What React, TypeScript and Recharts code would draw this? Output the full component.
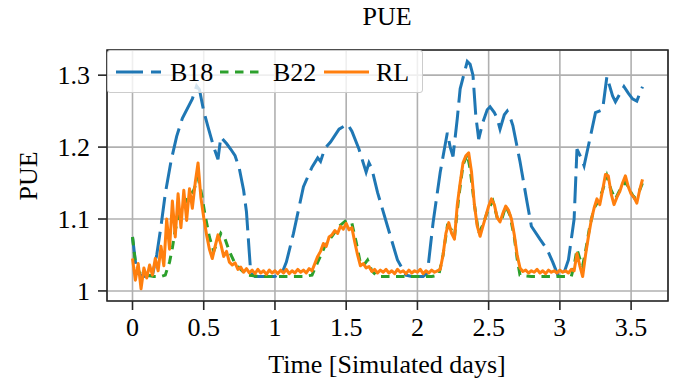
import { LineChart, Line, XAxis, YAxis, CartesianGrid, Legend, ReferenceArea } from 'recharts';

// RL: sampled every 0.02 simulated days, t = 0 .. 3.58
const RL_STEP = 0.02;
const rlPue = [
  1.045, 1.015, 1.038, 1.003, 1.032, 1.018, 1.036, 1.022, 1.045, 1.028,
  1.062, 1.035, 1.1, 1.058, 1.125, 1.075, 1.135, 1.088, 1.14, 1.098,
  1.142, 1.115, 1.15, 1.178, 1.13, 1.102, 1.078, 1.058, 1.045, 1.062,
  1.078, 1.065, 1.048, 1.055, 1.04, 1.036, 1.039, 1.03, 1.033, 1.026,
  1.031, 1.025, 1.029, 1.024, 1.03, 1.025, 1.028, 1.023, 1.029, 1.025,
  1.028, 1.024, 1.029, 1.025, 1.03, 1.024, 1.028, 1.025, 1.03, 1.026,
  1.029, 1.025, 1.031, 1.028, 1.038, 1.048, 1.055, 1.066, 1.062, 1.075,
  1.078, 1.084, 1.08, 1.09, 1.086, 1.094, 1.085, 1.088, 1.068, 1.05,
  1.035, 1.038, 1.032, 1.034, 1.027, 1.03, 1.025, 1.029, 1.026, 1.03,
  1.025, 1.028, 1.024, 1.03, 1.026, 1.028, 1.024, 1.029, 1.025, 1.028,
  1.026, 1.03, 1.024, 1.028, 1.025, 1.029, 1.026, 1.028, 1.03, 1.05,
  1.08, 1.095, 1.08, 1.072, 1.12, 1.15, 1.178, 1.188, 1.192, 1.165,
  1.12, 1.09, 1.076, 1.09, 1.104, 1.118, 1.128, 1.12, 1.102, 1.096,
  1.108, 1.118, 1.112, 1.1, 1.078, 1.05, 1.032, 1.027, 1.029, 1.025,
  1.028, 1.026, 1.03, 1.025, 1.028, 1.024, 1.029, 1.026, 1.028, 1.025,
  1.029, 1.026, 1.028, 1.025, 1.03, 1.028, 1.052, 1.035, 1.02, 1.05,
  1.075, 1.098, 1.115, 1.128, 1.12, 1.14, 1.162, 1.16, 1.135, 1.12,
  1.13, 1.138, 1.15, 1.16, 1.145, 1.135, 1.13, 1.122, 1.14, 1.155,
];

const b18Time = [
  0, 0.03, 0.08, 0.14, 0.17, 0.2, 0.23, 0.27, 0.31, 0.35, 0.42, 0.45, 0.47, 0.5, 0.53, 0.57, 0.6, 0.62,
  0.66, 0.69, 0.72, 0.75, 0.78, 0.8, 0.82, 0.83, 0.86, 1.0, 1.05, 1.08, 1.13, 1.2, 1.26, 1.3, 1.32,
  1.35, 1.39, 1.45, 1.51, 1.54, 1.59, 1.64, 1.66, 1.68, 1.72, 1.79, 1.86, 1.92, 1.96, 2.04, 2.07,
  2.09, 2.11, 2.16, 2.21, 2.23, 2.25, 2.28, 2.3, 2.35, 2.37, 2.39, 2.41, 2.43, 2.46, 2.49, 2.51,
  2.54, 2.56, 2.58, 2.61, 2.63, 2.65, 2.67, 2.72, 2.77, 2.8, 2.86, 2.91, 2.95, 2.99, 3.02, 3.06,
  3.1, 3.12, 3.15, 3.17, 3.22, 3.25, 3.3, 3.33, 3.37, 3.39, 3.45, 3.48, 3.51, 3.54, 3.58,
];
const b18Pue = [
  1.075, 1.025, 1.02, 1.022, 1.05, 1.09, 1.135, 1.18, 1.215, 1.24, 1.267, 1.285, 1.28, 1.25, 1.228, 1.2, 1.183, 1.214,
  1.205, 1.197, 1.188, 1.17, 1.14, 1.11, 1.053, 1.025, 1.02, 1.02, 1.025, 1.04, 1.08, 1.145, 1.172, 1.185, 1.18,
  1.198, 1.207, 1.225, 1.232, 1.222, 1.197, 1.165, 1.178, 1.17, 1.137, 1.09, 1.043, 1.022, 1.02, 1.02, 1.025,
  1.06, 1.095, 1.165, 1.22, 1.2, 1.187, 1.24, 1.281, 1.319, 1.315, 1.3, 1.243, 1.211, 1.235, 1.252, 1.256,
  1.248, 1.24, 1.225, 1.245, 1.25, 1.242, 1.23, 1.18, 1.123, 1.09, 1.072, 1.058, 1.04, 1.02, 1.02, 1.043,
  1.1, 1.197, 1.185, 1.174, 1.22, 1.248, 1.252, 1.298, 1.271, 1.263, 1.284, 1.275, 1.267, 1.264, 1.284,
];

const b22Time = [
  0, 0.02, 0.05, 0.1, 0.15, 0.2, 0.23, 0.26, 0.28, 0.3, 0.33, 0.36, 0.4, 0.43, 0.46, 0.48, 0.51, 0.54,
  0.57, 0.6, 0.62, 0.65, 0.68, 0.72, 0.76, 0.8, 0.9, 1.0, 1.1, 1.2, 1.26, 1.3, 1.35, 1.4, 1.45, 1.5,
  1.54, 1.57, 1.6, 1.62, 1.65, 1.68, 1.72, 1.8, 1.9, 2.0, 2.1, 2.15, 2.18, 2.21, 2.24, 2.26, 2.29,
  2.32, 2.35, 2.37, 2.4, 2.43, 2.46, 2.5, 2.53, 2.56, 2.59, 2.62, 2.65, 2.68, 2.7, 2.72, 2.8, 2.9,
  3.0, 3.08, 3.1, 3.12, 3.14, 3.16, 3.18, 3.21, 3.24, 3.27, 3.3, 3.33, 3.36, 3.39, 3.42, 3.46, 3.49,
  3.52, 3.55, 3.58,
];
const b22Pue = [
  1.075, 1.04, 1.025, 1.022, 1.02, 1.02, 1.022, 1.04, 1.06, 1.085, 1.105, 1.12, 1.132, 1.14, 1.158, 1.14, 1.105, 1.075,
  1.055, 1.07, 1.08, 1.072, 1.055, 1.038, 1.03, 1.022, 1.02, 1.02, 1.02, 1.02, 1.022, 1.04, 1.062, 1.076, 1.09, 1.098,
  1.094, 1.068, 1.038, 1.035, 1.043, 1.028, 1.02, 1.02, 1.02, 1.02, 1.02, 1.022, 1.05, 1.09, 1.085, 1.075, 1.13,
  1.175, 1.19, 1.17, 1.12, 1.08, 1.092, 1.115, 1.125, 1.102, 1.098, 1.118, 1.105, 1.075, 1.045, 1.022, 1.02, 1.02,
  1.02, 1.02, 1.035, 1.058, 1.045, 1.035, 1.055, 1.09, 1.115, 1.125, 1.14, 1.16, 1.14, 1.128, 1.14, 1.152, 1.14,
  1.13, 1.135, 1.15,
];

const xTicks = [0, 0.5, 1, 1.5, 2, 2.5, 3, 3.5];
const yTicks = [1, 1.1, 1.2, 1.3];
const xDomain = [-0.179, 3.759];
const yDomain = [0.986, 1.335];

const rlData = rlPue.map((v, i) => ({ t: Math.round(i * RL_STEP * 100) / 100, v }));
const b18Data = b18Time.map((t, i) => ({ t, v: b18Pue[i] }));
const b22Data = b22Time.map((t, i) => ({ t, v: b22Pue[i] }));

const FONT = '"Liberation Serif", "Times New Roman", "DejaVu Serif", serif';
const BLUE = '#1f77b4';
const GREEN = '#2ca02c';
const ORANGE = '#ff7f0e';
const DARK = '#262626';

const fmt = (v: number) => String(v);

function LegendBox() {
  return (
    <div
      style={{
        width: 316,
        height: 43,
        boxSizing: 'border-box',
        border: '1px solid #cccccc',
        borderRadius: 3,
        background: 'rgba(255,255,255,0.8)',
      }}
    >
      <svg width={314} height={41} style={{ display: 'block' }}>
        <line x1={8} x2={53} y1={21} y2={21} stroke={BLUE} strokeWidth={3} strokeDasharray="27 8" />
        <text x={62} y={30} fontFamily={FONT} fontSize={26} fill="#000">B18</text>
        <line x1={112} x2={157} y1={21} y2={21} stroke={GREEN} strokeWidth={3} strokeDasharray="8.5 6.5" />
        <text x={165} y={30} fontFamily={FONT} fontSize={26} fill="#000">B22</text>
        <line x1={216} x2={261} y1={21} y2={21} stroke={ORANGE} strokeWidth={3} />
        <text x={268} y={30} fontFamily={FONT} fontSize={26} fill="#000">RL</text>
      </svg>
    </div>
  );
}

export default function App() {
  const tickStyle = { fill: '#000', fontSize: 26, fontFamily: FONT };
  return (
    <div style={{ position: 'absolute', left: 0, top: 0, width: 680, height: 385, background: '#fff' }}>
      <div
        style={{
          position: 'absolute',
          left: 0,
          top: 3,
          width: 774,
          textAlign: 'center',
          fontFamily: FONT,
          fontSize: 26,
          lineHeight: '28px',
          color: '#000',
        }}
      >
        PUE
      </div>
      <LineChart width={680} height={385} margin={{ top: 50, right: 12, bottom: 40, left: 0 }}>
        <CartesianGrid stroke="#b0b0b0" strokeWidth={1.6} />
        <XAxis
          type="number"
          dataKey="t"
          domain={xDomain}
          ticks={xTicks}
          tickFormatter={fmt}
          height={44}
          tick={tickStyle}
          tickSize={9}
          tickMargin={8}
          tickLine={{ stroke: DARK, strokeWidth: 1.6 }}
          axisLine={false}
          allowDataOverflow
          label={{
            content: () => (
              <text x={387} y={373} textAnchor="middle" fontFamily={FONT} fontSize={26} fill="#000">
                Time [Simulated days]
              </text>
            ),
          }}
        />
        <YAxis
          type="number"
          dataKey="v"
          domain={yDomain}
          ticks={yTicks}
          tickFormatter={fmt}
          width={107}
          tick={tickStyle}
          tickSize={9}
          tickMargin={8}
          tickLine={{ stroke: DARK, strokeWidth: 1.6 }}
          axisLine={false}
          allowDataOverflow
          label={{
            content: () => (
              <text
                x={28}
                y={176}
                transform="rotate(-90 28 176)"
                textAnchor="middle"
                dominantBaseline="central"
                fontFamily={FONT}
                fontSize={26}
                fill="#000"
              >
                PUE
              </text>
            ),
          }}
        />
        <Line
          data={b18Data}
          dataKey="v"
          type="linear"
          stroke={BLUE}
          strokeWidth={3}
          strokeDasharray="27 8"
          dot={false}
          activeDot={false}
          isAnimationActive={false}
        />
        <Line
          data={b22Data}
          dataKey="v"
          type="linear"
          stroke={GREEN}
          strokeWidth={3}
          strokeDasharray="8.5 6.5"
          dot={false}
          activeDot={false}
          isAnimationActive={false}
        />
        <Line
          data={rlData}
          dataKey="v"
          type="linear"
          stroke={ORANGE}
          strokeWidth={3}
          strokeLinejoin="round"
          dot={false}
          activeDot={false}
          isAnimationActive={false}
        />
        <ReferenceArea
          x1={xDomain[0]}
          x2={xDomain[1]}
          y1={yDomain[0]}
          y2={yDomain[1]}
          fill="none"
          fillOpacity={0}
          stroke={DARK}
          strokeWidth={1.6}
          ifOverflow="visible"
        />
        <Legend
          layout="vertical"
          align="center"
          verticalAlign="middle"
          content={() => <LegendBox />}
          wrapperStyle={{ left: 107, top: 50, width: 316, height: 43 }}
        />
      </LineChart>
    </div>
  );
}
